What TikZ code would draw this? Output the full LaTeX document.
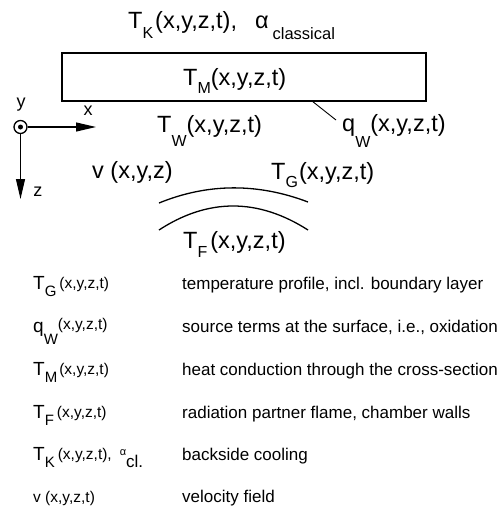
\documentclass[tikz,border=0pt]{standalone}
\usepackage{fontspec}
\setmainfont{Liberation Sans}
\usetikzlibrary{arrows.meta}
\newcommand\szMain{\fontsize{23.5}{25}\selectfont}
\newcommand\szSub{\fontsize{16}{18}\selectfont}
\newcommand\szCls{\fontsize{16.5}{18}\selectfont}
\newcommand\szAx{\fontsize{18}{20}\selectfont}
\newcommand\szDesc{\fontsize{17}{19}\selectfont}
\newcommand\szLT{\fontsize{19}{21}\selectfont}
\newcommand\szLS{\fontsize{15}{17}\selectfont}
\newcommand\szLP{\fontsize{15.5}{17}\selectfont}
\begin{document}
\begin{tikzpicture}[x=1pt,y=-1pt,
  lab/.style={inner sep=0pt, anchor=base west, font=\szMain},
  leg/.style={inner sep=0pt, anchor=base west},
  desc/.style={inner sep=0pt, anchor=base west, font=\szDesc},
  axlab/.style={inner sep=0pt, font=\szAx},
  axis/.style={line width=1.1pt, -{Triangle[length=20pt,width=9pt]}},
  arcline/.style={line width=1.3pt}]
\useasboundingbox (0,0) rectangle (501,523);
% top label
\node[lab] (tk) at (128,28) {T\raisebox{-10pt}{\szSub K}\hspace{2pt}(x,y,z,t),\hspace{18pt}α\hspace{4pt}\raisebox{-11pt}{\szCls classical}};
% wall
\node[draw, line width=1.5pt, minimum width=364pt, minimum height=48pt, inner sep=0pt] (wall) at (244,77) {};
\node[lab] (tm) at (183,85) {T\raisebox{-8pt}{\szSub M}(x,y,z,t)};
% axes
\node[circle, draw, line width=1.3pt, minimum size=13pt, inner sep=0pt] (orig) at (20.5,127) {};
\fill (orig.center) circle (2.5pt);
\coordinate (xtip) at (96,127);
\coordinate (ztip) at (20.5,199);
\draw[axis] (orig.east) -- (xtip);
\draw[axis] (orig.south) -- (ztip);
\node[axlab] (ylab) at (21,105) {y};
\node[axlab] (xlab) at (88,111) {x};
\node[axlab] (zlab) at (38,192) {z};
% labels
\node[lab] (tw) at (157,132) {T\raisebox{-14pt}{\szSub W}(x,y,z,t)};
\node[lab] (qw) at (342,131) {q\raisebox{-16pt}{\szSub W}(x,y,z,t)};
\coordinate (qa) at (312,101);
\coordinate (qb) at (336,120);
\draw[line width=0.9pt] (qa) -- (qb);
\node[lab] (v) at (92,178) {v (x,y,z)};
\node[lab] (tg) at (271,179) {T\raisebox{-8pt}{\szSub G}\hspace{1pt}(x,y,z,t)};
% arcs
\coordinate (a1l) at (159,203);
\coordinate (a1r) at (308,202);
\draw[arcline] (a1l) .. controls (208,183) and (258,183) .. (a1r);
\coordinate (a2l) at (159,230);
\coordinate (a2r) at (308,230);
\draw[arcline] (a2l) .. controls (208,198) and (258,198) .. (a2r);
\node[lab] (tf) at (183,248) {T\raisebox{-9pt}{\szSub F}\hspace{3pt}(x,y,z,t)};
% legend
\node[leg] (l1) at (33,289) {\szLT T\raisebox{-7pt}{\szLS G}\hspace{3pt}\raisebox{1pt}{\szLP (x,y,z,t)}};
\node[desc] (d1) at (182,289) {temperature profile, incl. boundary layer};
\node[leg] (l2) at (33,332) {\szLT q\raisebox{-12pt}{\szLS W}\raisebox{3pt}{\szLP (x,y,z,t)}};
\node[desc] (d2) at (182,332) {source terms at the surface, i.e., oxidation};
\node[leg] (l3) at (33,375) {\szLT T\raisebox{-7pt}{\szLS M}\hspace{2pt}\raisebox{1pt}{\szLP (x,y,z,t)}};
\node[desc] (d3) at (182,375) {heat conduction through the cross-section};
\node[leg] (l4) at (33,418) {\szLT T\raisebox{-7pt}{\szLS F}\hspace{3pt}\raisebox{1pt}{\szLP (x,y,z,t)}};
\node[desc] (d4) at (182,418) {radiation partner flame, chamber walls};
\node[leg] (l5) at (33,460) {\szLT T\raisebox{-7pt}{\szLS K}\hspace{3pt}\raisebox{1pt}{\szLP (x,y,z,t),}\hspace{8pt}\raisebox{5pt}{\fontsize{11}{12}\selectfont α}\raisebox{-7pt}{\szDesc cl.}};
\node[desc] (d5) at (182,460) {backside cooling};
\node[leg] (l6) at (33,502) {\szLP v (x,y,z,t)};
\node[desc] (d6) at (182,502) {velocity field};
\end{tikzpicture}
\end{document}
